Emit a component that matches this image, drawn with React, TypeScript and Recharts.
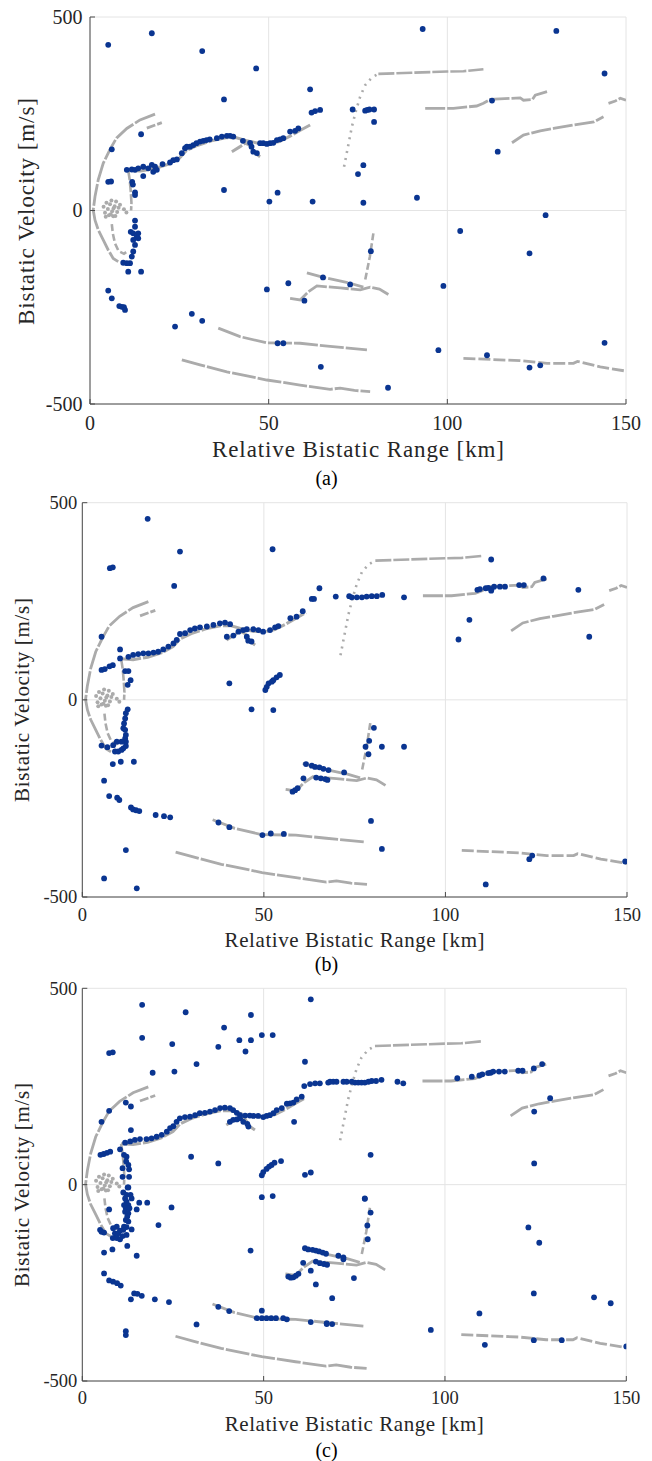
import React from 'react';
import { ScatterChart, Scatter, XAxis, YAxis, CartesianGrid } from 'recharts';

type P = [number, number];

const xTicks = [0, 50, 100, 150];
const yTicks = [-500, 0, 500];

// gray tracks, identical in all three panels (range km, velocity m/s)
const outerArc: P[] = [[18.2, 249], [14, 234], [10.3, 212], [7.4, 187], [5.6, 158], [3.7, 122], [2.3, 79], [1.4, 36], [0.9, 1], [1.4, -25], [2.3, -50], [3.7, -76], [5.1, -102], [6.5, -124], [7.9, -132]];
const shortArc: P[] = [[15.9, 213], [20.1, 227]];
const innerLeft: P[] = [[6.1, -35], [6.4, -60], [7, -85], [8, -105], [9.5, -112], [10.5, -105]];
const innerRight: P[] = [[10.7, 104], [11.1, 80], [11.4, 50], [11.6, 20], [11.5, 0]];
const mainTrack: P[] = [[10.7, 104], [14, 102], [18, 108], [22, 120], [25, 135], [27, 155], [30, 168], [34, 180], [38, 188], [41, 188], [44, 180], [47, 174], [50, 172], [53, 178], [56, 192], [59, 208], [61.6, 221]];
const branch: P[] = [[39.7, 152], [42, 165], [43.4, 174], [44.8, 168], [46.2, 148], [47.6, 139]];
const sparseRise: P[] = [[71.1, 113], [72.2, 165], [73.3, 217], [74.5, 260], [75.6, 294], [77, 324], [78.9, 344], [80.7, 353]];
const topFlat: P[] = [[80.7, 353], [90, 356], [100, 359], [104.5, 360], [110.1, 365]];
const track270: P[] = [[93.8, 264], [101.7, 264], [108.2, 270], [110.1, 277], [112, 287], [120.4, 291], [121.3, 285], [123.8, 287], [124.6, 298], [127.9, 307]];
const edgeTrack: P[] = [[145.1, 277], [147, 283], [148.4, 290], [150, 285]];
const track210: P[] = [[118.1, 175], [121.3, 195], [126, 206], [129.7, 212], [135.3, 221], [141, 229], [143.7, 242]];
const upper170: P[] = [[60.7, -161], [65.3, -173], [72.8, -188], [76.5, -198]];
const lower200: P[] = [[56, -227], [58.8, -231], [61.1, -210], [63.5, -195], [70, -200], [75.6, -205], [78.4, -198], [81, -203], [83.5, -217]];
const vertDash: P[] = [[79.3, -59], [78.3, -120], [77, -180]];
const track340: P[] = [[35.9, -304], [42, -326], [49.5, -342], [58.8, -343], [67.2, -351], [77.5, -360]];
const track440: P[] = [[25.7, -386], [30.8, -399], [38.3, -417], [49.5, -438], [58.8, -451], [67.2, -462], [70, -459], [74, -465], [78.4, -468]];
const trackLowRight: P[] = [[104.5, -382], [120.4, -388], [127.9, -395], [135.3, -395], [136.4, -390], [142.8, -404], [150, -415]];
const grayBlob: P[] = [[3.8, 10], [4.2, -6], [4.6, 20], [5, 4], [5.3, -12], [5.6, 16], [6, 26], [6.2, -2], [6.5, -15], [6.9, 11], [7.3, 23], [7.6, -4], [8, 7], [4.4, -16], [5.8, -10], [7.1, -14], [8.4, 15], [9.5, 3], [10.2, -5], [6.6, 6]];

// detections, panel (a)
const blueA: P[] = [
  [5.1, 428], [17.3, 458], [31.4, 412], [46.5, 367], [37.5, 287], [61.6, 313], [62, 253], [63, 257], [64.4, 260], [6.1, 158], [14.3, 197], [5.1, 74], [5.9, 75], [37.5, 53], [52.5, 46], [50.2, 23], [62.3, 23], [14.9, 89], [11.8, 74], [12, 67], [12.6, 47], [12.6, 40],
  [10.3, 105], [11.7, 106], [12.6, 105], [13.5, 109], [14.9, 113], [16.3, 109], [17.3, 118], [18.2, 113], [17.7, 100], [18.7, 105], [20.3, 120], [22.4, 124], [23.3, 130], [24.3, 132], [25.7, 148], [26.6, 161], [27.1, 165], [28, 165], [28.9, 169], [29.8, 174], [30.8, 178], [31.7, 180], [32.6, 182], [33.5, 184], [35.5, 187], [36.9, 191], [38.3, 193], [39.2, 193], [40.1, 191], [42.8, 180], [44.8, 175], [45.2, 165], [45.7, 152], [46.7, 148], [47.6, 174], [48.5, 174], [49.5, 172], [50.4, 174], [51.3, 175], [52.3, 182], [53.2, 184], [54.1, 187], [56, 204], [57.4, 206], [58.3, 212],
  [93.1, 469], [130.5, 464], [144, 354], [73.5, 261], [77, 258], [77.6, 260], [78.2, 261], [79.5, 261], [79.5, 229], [112.5, 284], [114.1, 152], [76.5, 117], [75, 94], [76.5, 20], [91.5, 33], [127.5, -12],
  [12.6, -26], [12.6, -42], [11.4, -55], [12.1, -59], [13.5, -59], [13.1, -68], [12.1, -76], [13.5, -72], [12.6, -89], [12.1, -106], [11.7, -119], [11.2, -136], [10.3, -136], [9.3, -135], [10.7, -158], [14.3, -158], [5.1, -207], [6.1, -227], [8.2, -247], [8.9, -249], [9.5, -250], [9.8, -257],
  [23.8, -300], [28.5, -267], [31.4, -285], [49.5, -204], [55.5, -188], [60, -233], [65.2, -173], [52.5, -343], [54.1, -343], [64.6, -404],
  [103.6, -53], [123, -111], [78.6, -105], [72.8, -191], [98.9, -195], [97.5, -361], [111.1, -374], [123, -406], [126, -400], [144, -342], [83.4, -458],
];

// detections, panel (b)
const blueB: P[] = [
  [18, 459], [26.9, 376], [7.6, 334], [8.4, 336], [25.3, 289], [52.4, 382], [65.3, 283], [63.2, 256], [63.8, 256], [60.7, 225], [59, 211], [57.3, 207], [5.3, 160], [10.4, 128], [10.4, 105], [5.3, 76], [6.2, 78], [7.5, 85], [8.4, 88], [11.8, 73], [12.7, 73], [13.3, 50], [12.5, 38], [40.5, 42], [46.6, -24], [52.6, -26],
  [50.4, 25], [50.8, 33], [51.3, 42], [52.2, 46], [52.6, 50], [53.5, 57], [54.4, 63],
  [12.7, 109], [14, 114], [15.4, 116], [16.8, 118], [18.2, 118], [19.6, 120], [20.9, 122], [22.3, 128], [23.7, 135], [25.1, 143], [26, 152], [26.9, 167], [28.3, 169], [29.7, 177], [31, 181], [32.4, 184], [34.3, 186], [36.1, 190], [37.9, 194], [39.3, 196], [40.7, 192], [39.8, 160], [41.6, 163], [43, 173], [44.3, 177], [45.3, 179], [47.1, 179], [48.5, 177], [49.8, 173], [51.7, 177], [53.1, 184], [54, 187], [45.3, 160], [45.7, 150], [46.6, 148],
  [69.8, 262], [73.5, 263], [74.2, 260], [75.6, 260], [77, 260], [78.3, 262], [79.7, 263], [81.1, 263], [82.6, 266], [88.6, 260], [112.6, 356], [108.8, 279], [109.5, 281], [111.1, 283], [111.8, 284], [112.7, 281], [112.6, 277], [113.4, 287], [115, 287], [116.4, 287], [120.3, 291], [121.6, 291], [127, 308], [136.6, 279], [106.6, 203], [103.6, 153], [139.6, 160],
  [12.5, -24], [12, -34], [11.8, -47], [11.5, -60], [11.3, -72], [11.8, -76], [12, -89], [11.8, -98], [12, -106], [10.8, -106], [9.5, -106], [8.5, -115], [9, -131], [9.9, -131], [10.8, -127], [11.3, -123], [12, -117], [5.3, -116], [6.9, -120], [8.4, -163], [10.6, -157], [14.2, -157], [6, -205], [7.4, -244], [9.6, -248], [10.2, -254], [13.4, -273], [14, -278], [14.8, -280], [15.7, -282], [20.2, -292], [22.5, -295], [24.2, -298], [37.5, -311], [40.5, -323], [49.6, -343], [51.9, -339], [55.5, -340], [12, -381], [6, -453], [15, -478],
  [61.6, -163], [63.2, -167], [64.1, -170], [65.3, -171], [66.4, -175], [67.8, -178], [60.9, -199], [64.4, -197], [65.7, -199], [66.9, -201], [57.9, -233], [58.6, -229], [59.3, -224],
  [72.1, -184], [67.5, -203], [80.3, -71], [79, -104], [78, -119], [78.8, -138], [82.5, -119], [88.6, -119], [79.5, -307], [82.5, -378], [123.1, -404], [123.9, -395], [149.5, -410], [111.1, -468],
];

// detections, panel (c)
const blueC: P[] = [
  [16.5, 458], [28.5, 439], [46.5, 432], [63, 472], [16.5, 374], [24.8, 358], [39.1, 400], [37.5, 351], [43.3, 368], [46.5, 368], [45, 339], [49.5, 381], [52.5, 381], [61.4, 313], [7.4, 335], [8.4, 337], [19.4, 285], [25.4, 288], [31.5, 307], [5.3, 160], [7.4, 188], [12, 209], [13.4, 199], [13.4, 139], [58.4, 160], [30, 71], [37.5, 54], [61.4, 25], [63, 31],
  [49.5, 24], [49.9, 32], [50.8, 40], [51.5, 46], [52.2, 50], [53, 56], [54.8, 60],
  [5, 76], [5.9, 78], [6.8, 81], [7.7, 84], [10.4, 90], [11.5, 76], [12.2, 71], [12.1, 59], [12.7, 50], [12.9, 39], [12.9, 20], [11.1, 42], [11.1, 20], [12.7, -7],
  [11.8, 107], [13.2, 110], [14.5, 114], [15.9, 116], [17.7, 116], [19.1, 118], [20.5, 122], [21.9, 127], [23.3, 135], [24.2, 144], [25.1, 149], [26, 160], [26.9, 169], [28.3, 172], [29.7, 173], [31.1, 177], [32.4, 182], [33.8, 183], [35.2, 186], [36.6, 190], [38, 195], [39.3, 196], [40.7, 195], [41.6, 190], [42.6, 183], [43.5, 177], [44.9, 176], [46.2, 176], [47.2, 175], [48.5, 175], [49.9, 172], [50.8, 175], [51.7, 177], [52.7, 182], [53.6, 190], [55, 195], [56.4, 206], [57.3, 207], [58.2, 209], [59.1, 217], [60.5, 224], [61.2, 251], [62.8, 256], [64.2, 258], [65.5, 258], [67.8, 260], [40.7, 160], [41.6, 165], [42.6, 166], [43.5, 169], [44.4, 160], [45.5, 155], [45.8, 148],
  [68.3, 262], [69.2, 262], [70.1, 262], [72, 262], [72.9, 262], [74.3, 262], [75.2, 260], [76.1, 260], [77, 260], [77.9, 260], [78.9, 262], [79.8, 264], [81, 264], [82.5, 267], [86.9, 262], [88.5, 258], [103.4, 271], [107.4, 275], [109.5, 278], [110.3, 281], [111.9, 284], [112.6, 285], [113.3, 288], [114.9, 288], [116.5, 288], [120.2, 290], [121.4, 290], [124.5, 296], [126.8, 307], [129, 220], [124.6, 186], [124.6, 54], [79.5, 76], [77.9, -35],
  [12.5, -7], [11.3, -20], [12.2, -26], [13.3, -26], [13.6, -35], [11.8, -35], [12.2, -43], [11.5, -52], [12.7, -52], [12, -60], [13, -60], [11.8, -69], [12.7, -73], [12.4, -81], [12, -90], [12.7, -94], [11.5, -107], [12.2, -108], [13.6, -114], [11.3, -115], [10.4, -117], [9.5, -107], [8.5, -111], [9, -124], [9.9, -124], [8.4, -136], [9.5, -136], [10.4, -139], [11.1, -131], [12.2, -128], [4.9, -115], [5.3, -120], [6, -122], [7.4, -63], [15, -63], [15.7, -46], [17.9, -46], [24.6, -58], [21, -103],
  [6, -173], [8.3, -165], [12.4, -156], [15, -181], [6, -226], [7.4, -244], [8.5, -247], [9.6, -251], [10.6, -257], [13.4, -292], [14.3, -277], [15.2, -278], [16.4, -283], [20, -292], [23.9, -299], [31.5, -356], [12, -373], [12, -383],
  [37.5, -311], [40.5, -322], [49.5, -321], [48.1, -340], [49.5, -340], [50.8, -340], [52.1, -340], [53.4, -340], [55.4, -340], [56.4, -343], [63, -350], [67.4, -353], [46.4, -168], [49.5, -32], [52.5, -29],
  [60.9, -199], [63, -219], [64.4, -254], [61.4, -162], [62.3, -165], [63.5, -166], [64.4, -168], [65.3, -170], [66.3, -173], [67.2, -176], [64.4, -196], [65.5, -200], [66.6, -202], [67.5, -204], [56.8, -234], [57.5, -237], [58.2, -236], [58.9, -232], [59.6, -227],
  [77.9, -36], [79.5, -71], [78.6, -104], [78.7, -139], [70.6, -181], [72, -185], [72, -190], [74.9, -238], [68.9, -289], [67.4, -355], [68.9, -355], [96.1, -370],
  [123, -109], [126, -148], [124.5, -277], [141.1, -287], [145.7, -302], [109.5, -328], [111, -408], [124.5, -396], [132.2, -396], [150, -412],
];

const BLUE = '#0a3591';
const GRAY = '#ababab';
const AXIS = '#4a4a4a';
const GRID = '#e4e4e4';
const INK = '#262626';
const SERIF = 'Liberation Serif, DejaVu Serif, serif';
const serifStyle = { fontFamily: SERIF };

const pts = (a: P[]) => a.map(([x, y]) => ({ x, y }));

const tracks = [
  { data: outerArc, dash: '22 2', w: 2.8 },
  { data: shortArc, dash: '9 2', w: 2.8 },
  { data: innerLeft, dash: '7 3', w: 2.6 },
  { data: innerRight, dash: '10 2', w: 2.6 },
  { data: mainTrack, dash: '20 2', w: 3 },
  { data: branch, dash: '12 2', w: 3 },
  { data: sparseRise, dash: '2 5', w: 2.6 },
  { data: topFlat, dash: '16 2', w: 2.6 },
  { data: track270, dash: '20 2', w: 2.8 },
  { data: edgeTrack, dash: '9 2', w: 2.8 },
  { data: track210, dash: '20 2', w: 2.8 },
  { data: upper170, dash: '20 2', w: 2.8 },
  { data: lower200, dash: '20 2', w: 2.8 },
  { data: vertDash, dash: '7 3', w: 2.6 },
  { data: track340, dash: '24 2', w: 2.8 },
  { data: track440, dash: '24 2', w: 2.8 },
  { data: trackLowRight, dash: '12 3', w: 2.8 },
];

const noShape = () => <g />;
const blueDot = (p: any) => <circle cx={p.cx} cy={p.cy} r={2.9} fill={BLUE} />;
const grayDot = (p: any) => <circle cx={p.cx} cy={p.cy} r={2} fill={GRAY} />;

const bottomTick = (fs: number, dy: number) => (p: any) => (
  <g>
    <line x1={p.x} x2={p.x} y1={p.y} y2={p.y - 5} stroke={AXIS} />
    <text x={p.x} y={p.y + dy} textAnchor="middle" fontSize={fs} style={serifStyle} fill={INK}>{p.payload.value}</text>
  </g>
);
const leftTick = (fs: number, gap: number) => (p: any) => (
  <g>
    <line x1={p.x} x2={p.x + 5} y1={p.y} y2={p.y} stroke={AXIS} />
    <text x={p.x - gap} y={p.y + fs * 0.34} textAnchor="end" fontSize={fs} style={serifStyle} fill={INK}>{p.payload.value}</text>
  </g>
);
const topTick = (p: any) => <line x1={p.x} x2={p.x} y1={p.y} y2={p.y + 5} stroke={AXIS} />;
const rightTick = (p: any) => <line x1={p.x} x2={p.x - 5} y1={p.y} y2={p.y} stroke={AXIS} />;

interface PanelProps {
  top: number; height: number; marginTop: number; yWidth: number; marginRight: number;
  blue: P[]; fs: number; dy: number; gap: number;
}

const Panel: React.FC<PanelProps> = ({ top, height, marginTop, yWidth, marginRight, blue, fs, dy, gap }) => (
  <div style={{ position: 'absolute', left: 0, top }}>
    <ScatterChart width={652} height={height} margin={{ top: marginTop, right: marginRight, bottom: 0, left: 0 }}>
      <CartesianGrid stroke={GRID} />
      <XAxis type="number" dataKey="x" domain={[0, 150]} allowDataOverflow ticks={xTicks} interval={0} height={40}
        tickSize={0} tickMargin={0} tickLine={false} axisLine={{ stroke: AXIS }} tick={bottomTick(fs, dy)} />
      <XAxis xAxisId="top" orientation="top" type="number" dataKey="x" domain={[0, 150]} allowDataOverflow ticks={xTicks} interval={0} height={0}
        tickSize={0} tickMargin={0} tickLine={false} axisLine={{ stroke: AXIS }} tick={topTick} />
      <YAxis type="number" dataKey="y" domain={[-500, 500]} allowDataOverflow ticks={yTicks} interval={0} width={yWidth}
        tickSize={0} tickMargin={0} tickLine={false} axisLine={{ stroke: AXIS }} tick={leftTick(fs, gap)} />
      <YAxis yAxisId="right" orientation="right" type="number" dataKey="y" domain={[-500, 500]} allowDataOverflow ticks={yTicks} interval={0} width={0}
        tickSize={0} tickMargin={0} tickLine={false} axisLine={{ stroke: AXIS }} tick={rightTick} />
      {tracks.map((t, i) => (
        <Scatter key={i} data={pts(t.data)} shape={noShape} fill="none" isAnimationActive={false}
          line={{ stroke: GRAY, strokeWidth: t.w, strokeDasharray: t.dash }} />
      ))}
      <Scatter data={pts(grayBlob)} shape={grayDot} isAnimationActive={false} />
      <Scatter data={pts(blue)} shape={blueDot} isAnimationActive={false} />
    </ScatterChart>
  </div>
);

const xTitle = 'Relative Bistatic Range [km]';
const yTitle = 'Bistatic Velocity [m/s]';

export default function App() {
  return (
    <div style={{ position: 'absolute', left: 0, top: 0, width: 652, height: 1461, background: '#fff' }}>
      <Panel top={0} height={444} marginTop={17} yWidth={90} marginRight={26} blue={blueA} fs={20} dy={25.5} gap={7.5} />
      <Panel top={490} height={447} marginTop={12.7} yWidth={82.3} marginRight={25} blue={blueB} fs={18.5} dy={24} gap={5} />
      <Panel top={976} height={445} marginTop={12.3} yWidth={82.3} marginRight={25.7} blue={blueC} fs={18.5} dy={23} gap={5} />
      <svg width={652} height={1461} style={{ position: 'absolute', left: 0, top: 0, pointerEvents: 'none' }}>
        <g style={serifStyle} fill={INK}>
          <text x={358} y={457} textAnchor="middle" fontSize={23} textLength={292} lengthAdjust="spacing">{xTitle}</text>
          <text transform="translate(33.5,211.5) rotate(-90)" textAnchor="middle" fontSize={23} textLength={227} lengthAdjust="spacing">{yTitle}</text>
          <text x={354.6} y={946.5} textAnchor="middle" fontSize={21} textLength={260} lengthAdjust="spacing">{xTitle}</text>
          <text transform="translate(29,700) rotate(-90)" textAnchor="middle" fontSize={21} textLength={204} lengthAdjust="spacing">{yTitle}</text>
          <text x={354.3} y={1431} textAnchor="middle" fontSize={21} textLength={259} lengthAdjust="spacing">{xTitle}</text>
          <text transform="translate(29,1185) rotate(-90)" textAnchor="middle" fontSize={21} textLength={204} lengthAdjust="spacing">{yTitle}</text>
        </g>
        <g style={serifStyle} fill="#000" fontSize={20} textAnchor="middle">
          <text x={326.5} y={485}>(a)</text>
          <text x={326.5} y={970.5}>(b)</text>
          <text x={326.5} y={1456.5}>(c)</text>
        </g>
      </svg>
    </div>
  );
}
